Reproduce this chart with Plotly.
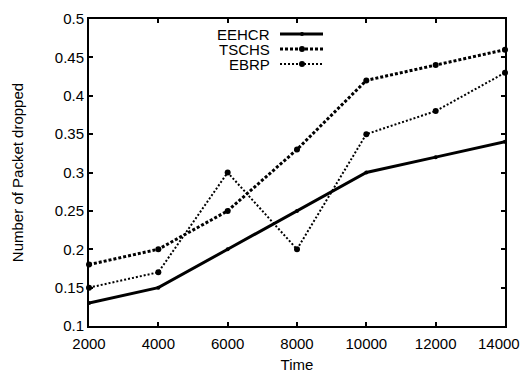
import plotly.graph_objects as go

time = [2000, 4000, 6000, 8000, 10000, 12000, 14000]
eehcr = [0.13, 0.15, 0.20, 0.25, 0.30, 0.32, 0.34]
tschs = [0.18, 0.20, 0.25, 0.33, 0.42, 0.44, 0.46]
ebrp = [0.15, 0.17, 0.30, 0.20, 0.35, 0.38, 0.43]
names = ["EEHCR", "TSCHS", "EBRP"]
x_ticks = [2000, 4000, 6000, 8000, 10000, 12000, 14000]
x_labels = ["2000", "4000", "6000", "8000", "10000", "12000", "14000"]
y_ticks = [0.1, 0.15, 0.2, 0.25, 0.3, 0.35, 0.4, 0.45, 0.5]
y_labels = ["0.1", "0.15", "0.2", "0.25", "0.3", "0.35", "0.4", "0.45", "0.5"]

styles = [
    dict(width=3, dash="solid", msize=4),
    dict(width=3, dash="3px,2px", msize=6),
    dict(width=2, dash="2px,2px", msize=6),
]
series = [eehcr, tschs, ebrp]

FONT = "Liberation Sans, Arial, sans-serif"
FS = 15

fig = go.Figure()
for name, ys, st in zip(names, series, styles):
    fig.add_trace(go.Scatter(
        x=time, y=ys, name=name, mode="lines+markers",
        line=dict(color="black", width=st["width"], dash=st["dash"]),
        marker=dict(color="black", size=st["msize"], symbol="circle"),
        showlegend=False, cliponaxis=False,
    ))

# page body has an 8px margin: shift the figure so the plot lands where the reference has it
OFF = 8
W, H = 529 - OFF, 373 - OFF
L, R, T, B = 89 - OFF, 24, 19 - OFF, 47
pw, ph = W - L - R, H - T - B
# screen-pixel helpers for the gnuplot-style legend
def px(x):
    return (x - OFF - L) / pw
def py(y):
    return 1 - (y - OFF - T) / ph

leg_y = [34, 49, 64]
for name, st, yy in zip(names, styles, leg_y):
    fig.add_annotation(x=px(272), y=py(yy), xref="paper", yref="paper",
                       text=name, showarrow=False, xanchor="right", yanchor="middle",
                       font=dict(family=FONT, size=FS, color="black"))
    fig.add_shape(type="line", xref="paper", yref="paper",
                  x0=px(280), x1=px(323), y0=py(yy), y1=py(yy),
                  line=dict(color="black", width=st["width"], dash=st["dash"]))
    r = st["msize"] / 2
    fig.add_shape(type="circle", xref="paper", yref="paper",
                  x0=px(302 - r), x1=px(302 + r), y0=py(yy - r), y1=py(yy + r),
                  fillcolor="black", line=dict(color="black", width=0))

# last x tick label: drawn as an annotation at its tick, nudged left so the
# window edge does not clip it
fig.add_annotation(x=x_ticks[-1], y=0, xref="x", yref="paper",
                   text=x_labels[-1], showarrow=False,
                   xanchor="center", yanchor="middle", xshift=-6, yshift=-17,
                   font=dict(family=FONT, size=FS, color="black"))

axis_common = dict(
    showline=True, linecolor="black", linewidth=2, mirror="allticks",
    ticks="inside", ticklen=4, tickwidth=1.5, tickcolor="black",
    showgrid=False, zeroline=False, automargin=False,
    tickfont=dict(family=FONT, size=FS, color="black"),
)

fig.update_layout(
    width=W, height=H,
    margin=dict(l=L, r=R, t=T, b=B),
    paper_bgcolor="white", plot_bgcolor="white",
    font=dict(family=FONT, size=FS, color="black"),
    xaxis=dict(range=[2000, 14000], tickvals=x_ticks,
               ticktext=x_labels[:-1] + [""],
               ticklabelstandoff=3,
               title=dict(text="Time", standoff=10, font=dict(size=FS)), **axis_common),
    yaxis=dict(range=[0.1, 0.5], tickvals=y_ticks, ticktext=y_labels,
               title=dict(text="Number of Packet dropped", standoff=28,
                          font=dict(size=FS)), **axis_common),
)

fig.write_html("out.html")
